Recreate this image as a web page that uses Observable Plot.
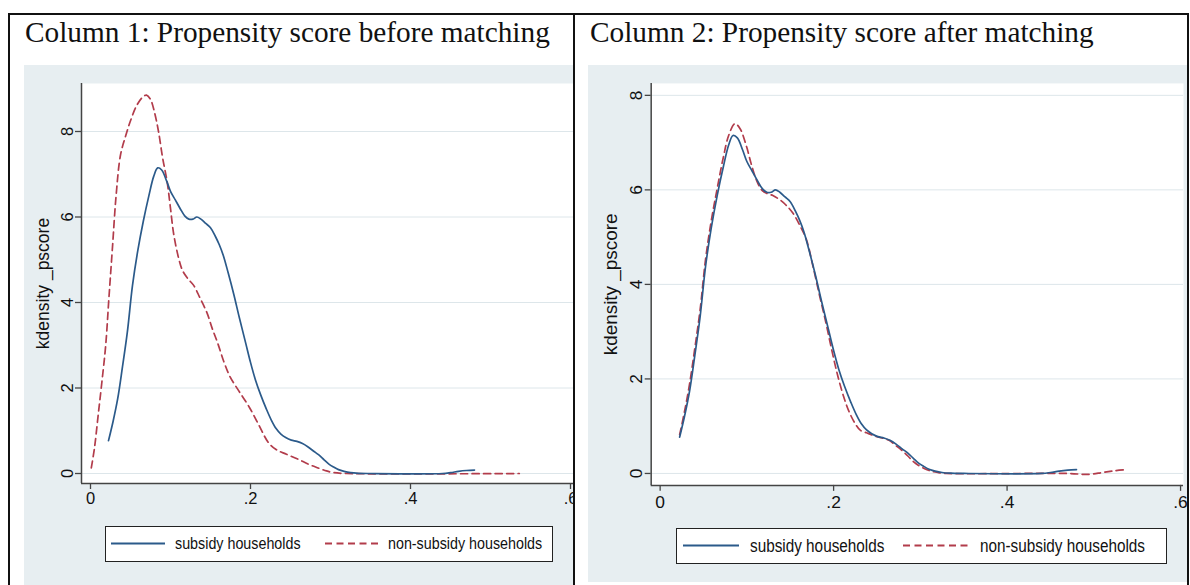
<!DOCTYPE html>
<html><head><meta charset="utf-8">
<script src="https://cdn.jsdelivr.net/npm/d3@7"></script>
<script src="https://cdn.jsdelivr.net/npm/@observablehq/plot@0.6"></script>
<style>
body{margin:0;background:#fff;}
#root{position:relative;width:1190px;height:585px;overflow:hidden;background:#fff;}
.abs{position:absolute;}
.title{position:absolute;font-family:"Liberation Serif","Times New Roman",serif;font-size:29.3px;color:#111;white-space:nowrap;line-height:1;}
.legend{position:absolute;background:#fff;border:1.5px solid #222;box-sizing:border-box;font-family:"Liberation Sans",Arial,sans-serif;color:#111;}
.legend span{position:absolute;white-space:nowrap;line-height:1;transform:scaleY(1.15);transform-origin:left center;}
.legend svg{position:absolute;left:0;top:0;}
</style></head><body><div id="root"></div>
<script>
// ---- data ----
const titles = ["Column 1: Propensity score before matching", "Column 2: Propensity score after matching"];
const seriesNames = ["subsidy households", "non-subsidy households"];
const yTitle = "kdensity _pscore";
const yTicks = [0, 2, 4, 6, 8];
const xTicks = [0, 0.2, 0.4, 0.6];

// subsidy households (same treated group in both panels)
const subX = [0.0225,0.028,0.034,0.04,0.046,0.0525,0.059,0.066,0.073,0.079,0.084,0.089,0.095,0.1,0.106,0.112,0.118,0.123,0.128,0.133,0.138,0.144,0.15,0.156,0.161,0.166,0.172,0.179,0.186,0.194,0.2,0.206,0.2125,0.22,0.226,0.232,0.238,0.244,0.251,0.258,0.265,0.272,0.279,0.285,0.292,0.298,0.304,0.31,0.317,0.325,0.335,0.35,0.44,0.45,0.46,0.47,0.48];
const subY = [0.77,1.2,1.75,2.5,3.3,4.4,5.2,5.9,6.5,6.95,7.15,7.1,6.85,6.6,6.4,6.2,6.02,5.95,5.95,6.0,5.95,5.85,5.75,5.55,5.35,5.1,4.7,4.2,3.65,3.05,2.6,2.2,1.85,1.5,1.25,1.05,0.92,0.84,0.78,0.75,0.7,0.62,0.52,0.44,0.32,0.22,0.15,0.09,0.05,0.02,0.005,0,0,0.02,0.05,0.07,0.08];

// non-subsidy households, before matching
const nonBeforeX = [0.001,0.005,0.0095,0.014,0.019,0.023,0.0275,0.032,0.0375,0.044,0.05,0.0575,0.065,0.07,0.075,0.08,0.085,0.09,0.096,0.1,0.104,0.11,0.115,0.122,0.129,0.137,0.146,0.152,0.159,0.167,0.1745,0.1865,0.1985,0.21,0.2225,0.232,0.245,0.26,0.272,0.2845,0.295,0.304,0.32,0.536];
const nonBeforeY = [0.13,0.6,1.35,2.1,3.0,4.1,5.3,6.5,7.45,7.9,8.25,8.6,8.8,8.85,8.75,8.45,8.0,7.4,6.8,6.2,5.6,5.05,4.75,4.55,4.4,4.1,3.74,3.4,3.05,2.6,2.26,1.9,1.55,1.15,0.72,0.56,0.45,0.33,0.22,0.13,0.06,0.02,0,0];

// non-subsidy households, after matching
const nonAfterX = [0.0225,0.028,0.034,0.04,0.046,0.0525,0.059,0.066,0.073,0.079,0.0862,0.092,0.0997,0.105,0.111,0.117,0.1226,0.13,0.138,0.145,0.153,0.161,0.1686,0.176,0.184,0.191,0.198,0.205,0.212,0.218,0.225,0.231,0.238,0.245,0.251,0.258,0.264,0.271,0.278,0.285,0.292,0.298,0.305,0.312,0.32,0.33,0.47,0.493,0.51,0.525,0.537];
const nonAfterY = [0.82,1.3,1.9,2.65,3.45,4.55,5.35,6.05,6.7,7.15,7.4,7.3,6.91,6.55,6.21,6.0,5.93,5.88,5.79,5.68,5.51,5.25,4.95,4.4,3.75,3.2,2.6,2.05,1.6,1.3,1.05,0.91,0.86,0.81,0.77,0.74,0.7,0.6,0.5,0.38,0.25,0.17,0.1,0.05,0.02,0,0,-0.02,0.02,0.06,0.08];

const colors = {sub: "#2b5a8a", non: "#b23c4b"};
const bg = "#e7eef1";

const toRows = (xs, ys) => xs.map((x, i) => ({x, y: ys[i]}));
const subRows = toRows(subX, subY);
const nonBefore = toRows(nonBeforeX, nonBeforeY);
const nonAfter = toRows(nonAfterX, nonAfterY);

const fmtX = d => d === 0 ? "0" : String(+d.toFixed(1)).replace(/^0/, "");
const TICK = 6;

function panel(cfg, nonRows) {
  return Plot.plot({
    width: cfg.width, height: 520,
    marginLeft: cfg.ml, marginRight: cfg.mr, marginTop: 18, marginBottom: cfg.mb,
    x: {domain: cfg.xd, axis: null},
    y: {domain: cfg.yd, axis: null},
    style: {background: bg, fontFamily: "Liberation Sans, Arial, sans-serif", color: "#111", overflow: "visible"},
    marks: [
      Plot.frame({fill: "white", stroke: "none"}),
      Plot.gridY(yTicks, {stroke: "#dde6ea", strokeOpacity: 1, strokeWidth: 1}),
      Plot.ruleX([cfg.xd[0]], {stroke: "#444", strokeWidth: 1.5}),
      Plot.ruleY([cfg.yd[0]], {stroke: "#444", strokeWidth: 1.5}),
      // tick marks
      Plot.axisY(yTicks, {label: null, tickSize: TICK, tickFormat: () => "", stroke: "#444", strokeWidth: 1.3}),
      Plot.axisX(xTicks, {label: null, tickSize: TICK, tickFormat: () => "", stroke: "#444", strokeWidth: 1.3}),
      // tick labels
      Plot.text(yTicks, {y: d => d, text: d => String(d), frameAnchor: "left", rotate: -90, textAnchor: "middle", lineAnchor: "bottom",
        dx: -(TICK + cfg.ypad), fontSize: cfg.fs, fill: "#111"}),
      Plot.text(xTicks, {x: d => d, text: fmtX, frameAnchor: "bottom", textAnchor: "middle", lineAnchor: "top",
        dy: TICK + cfg.xpad, fontSize: cfg.fs, fill: "#111"}),
      // axis title
      Plot.text([yTitle], {text: d => d, frameAnchor: "left", textAnchor: "middle", lineAnchor: "middle", rotate: -90, dx: cfg.tdx, fontSize: cfg.tfs, fill: "#111"}),
      // curves
      Plot.line(nonRows, {x: "x", y: "y", stroke: colors.non, strokeWidth: 1.7, strokeDasharray: "7,4.5", curve: "catmull-rom"}),
      Plot.line(subRows, {x: "x", y: "y", stroke: colors.sub, strokeWidth: 1.7, curve: "catmull-rom"})
    ]
  });
}

const root = document.getElementById("root");
function add(html, css) {
  const d = document.createElement("div");
  d.className = "abs";
  Object.assign(d.style, css);
  if (html) d.innerHTML = html;
  root.appendChild(d);
  return d;
}

// left panel plot (gray panel x 24..573)
const leftWrap = add("", {left: "24px", top: "65px", width: "549px", height: "520px", overflow: "hidden"});
leftWrap.appendChild(panel({
  width: 549, ml: 57, mr: 0, mb: 102,
  xd: [(81 - 90) / 800, (573 - 90) / 800],
  yd: [(473 - 483) / 42.75, (473 - 83) / 42.75],
  fs: 16.5, tfs: 17.5, ypad: 3, xpad: 3, tdx: -38
}, nonBefore));

// right panel plot (gray panel x 588..1187)
const rightWrap = add("", {left: "588px", top: "65px", width: "599px", height: "520px", overflow: "hidden"});
rightWrap.appendChild(panel({
  width: 602, ml: 63, mr: 4, mb: 98,
  xd: [(651 - 660) / 871.7, (1186 - 660) / 871.7],
  yd: [(475 - 487) / 47.5, (475 - 83) / 47.5],
  fs: 17.5, tfs: 19, ypad: 3, xpad: 4, tdx: -40
}, nonAfter));

// titles
const t1 = document.createElement("div"); t1.className = "title"; t1.textContent = titles[0];
Object.assign(t1.style, {left: "25px", top: "18px"}); root.appendChild(t1);
const t2 = document.createElement("div"); t2.className = "title"; t2.textContent = titles[1];
Object.assign(t2.style, {left: "590px", top: "18px"}); root.appendChild(t2);

// legends
function legend(box, L, fs) {
  const d = document.createElement("div");
  d.className = "legend";
  Object.assign(d.style, {left: box.x + "px", top: box.y + "px", width: box.w + "px", height: box.h + "px", fontSize: fs + "px"});
  const cy = box.h / 2 - 1.5;
  d.innerHTML = `<svg width="${box.w}" height="${box.h}">
    <line x1="${L.l1[0]}" x2="${L.l1[1]}" y1="${cy}" y2="${cy}" stroke="${colors.sub}" stroke-width="1.8"/>
    <line x1="${L.l2[0]}" x2="${L.l2[1]}" y1="${cy}" y2="${cy}" stroke="${colors.non}" stroke-width="1.8" stroke-dasharray="7,4.5"/>
  </svg>
  <span style="left:${L.t1}px;top:${cy - fs * 0.5}px">${seriesNames[0]}</span>
  <span style="left:${L.t2}px;top:${cy - fs * 0.5}px">${seriesNames[1]}</span>`;
  root.appendChild(d);
}
legend({x: 105, y: 526, w: 448, h: 36}, {l1: [5, 59], t1: 69, l2: [219, 275], t2: 282}, 14.3);
legend({x: 676, y: 528, w: 491, h: 36}, {l1: [6, 62], t1: 73, l2: [226, 293], t2: 303}, 15.3);

// outer frame and divider
add("", {left: "8px", top: "13px", width: "1181px", height: "640px", border: "2px solid #111", boxSizing: "border-box"});
add("", {left: "573px", top: "13px", width: "2px", height: "600px", background: "#111"});
</script>
</body></html>
